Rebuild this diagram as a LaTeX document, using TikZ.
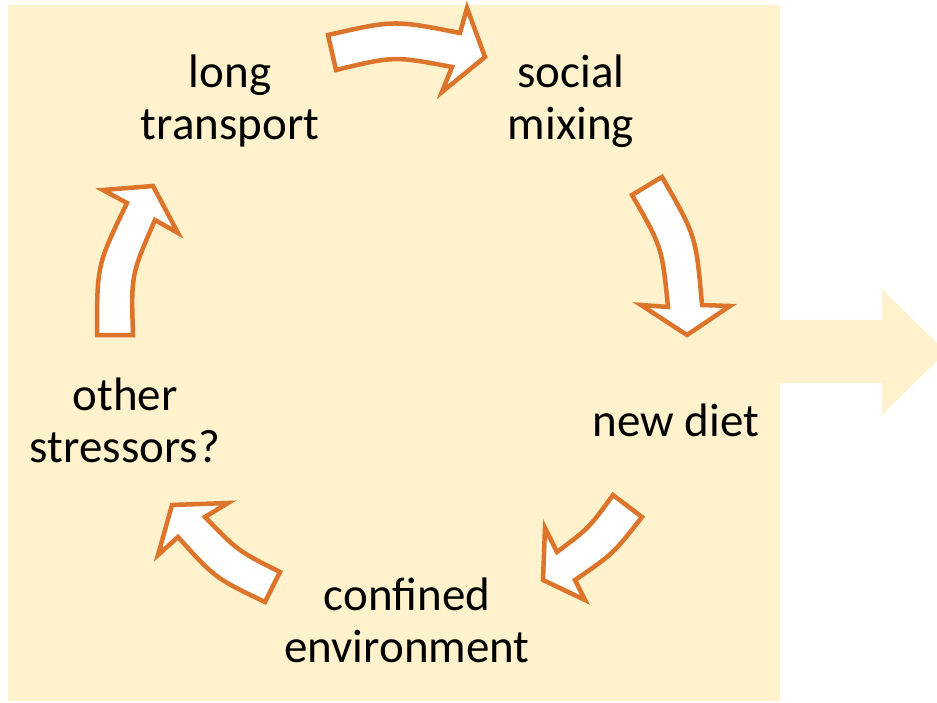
\documentclass[tikz,border=0pt]{standalone}
\usepackage{fontspec}
\setmainfont{Carlito}
\definecolor{bgyel}{RGB}{255,242,204}
\definecolor{arrorange}{RGB}{220,116,44}
\begin{document}
\begin{tikzpicture}[x=1pt,y=-1pt,
  cyc/.style={draw=arrorange,fill=white,line width=4.5pt,line join=miter},
  lbl/.style={font=\fontsize{47}{52}\selectfont,align=center,text=black,inner sep=0pt}]
\useasboundingbox (0,0) rectangle (937,703);
\begin{scope}
\clip (0,0) rectangle (937,703);
% background panel
\fill[bgyel] (8,5) rectangle (780,701);
% big outgoing arrow
\fill[bgyel] (779,320) -- (882,320) -- (882,289) -- (946,352) -- (882,415) -- (882,383) -- (779,383) -- cycle;
\end{scope}
% cycle arrows
\draw[cyc] (328,35) .. controls (394,20) .. (460,33) -- (467,8) -- (485,57) -- (442,92) -- (452,67) .. controls (394,56) .. (336,70) -- cycle;
\draw[cyc] (662,177) .. controls (696,236) .. (702,305) -- (730,306) -- (687,335) -- (641,305) -- (668,307) .. controls (662,247) .. (632,195) -- cycle;
\draw[cyc] (642,517) .. controls (613,554) .. (575,580) -- (585,600) -- (543,580) -- (545,528) -- (557,552) .. controls (589,528) .. (613,495) -- cycle;
\draw[cyc] (280,572) .. controls (238,551) .. (205,517) -- (228,503) -- (172,505) -- (158,555) -- (178,537) .. controls (215,578) .. (265,602) -- cycle;
\draw[cyc] (133,335) .. controls (131,275) .. (155,220) -- (178,233) -- (153,186) -- (103,190) -- (127,203) .. controls (97,265) .. (97,335) -- cycle;
% labels
\node[lbl] (lt) at (230,101) {long\\transport};
\node[lbl] (sm) at (571,101) {social\\mixing};
\node[lbl] (nd) at (676,420) {new diet};
\node[lbl] (ce) at (407,620) {confined\\environment};
\node[lbl] (os) at (125,420) {other\\stressors?};
\end{tikzpicture}
\end{document}
